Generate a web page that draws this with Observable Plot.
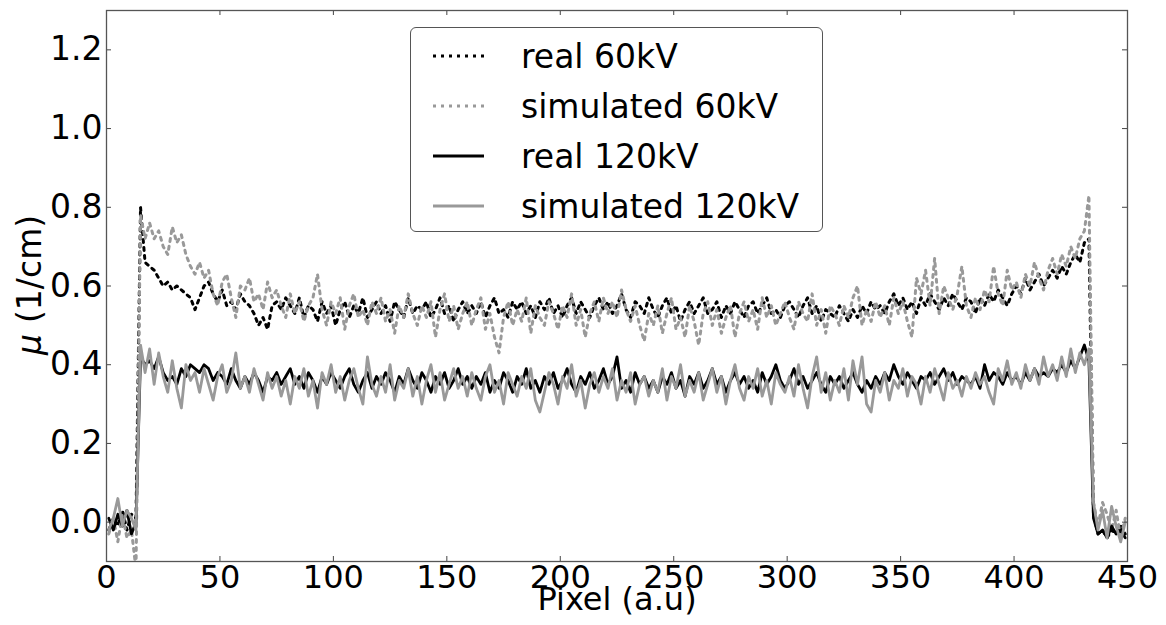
<!DOCTYPE html>
<html>
<head>
<meta charset="utf-8">
<script src="https://cdn.jsdelivr.net/npm/d3@7"></script>
<script src="https://cdn.jsdelivr.net/npm/@observablehq/plot@0.6"></script>
<style>
  html, body { margin: 0; padding: 0; background: #fff; }
  #wrap { position: relative; width: 1166px; height: 625px; font-family: "DejaVu Sans", sans-serif; }
  #legend { position: absolute; left: 410px; top: 27px; width: 411px; height: 203px; border: 1.3px solid #555; border-radius: 6px; background: #fff; }
</style>
</head>
<body>
<div id="wrap"><div id="chart"></div><div id="legend"></div></div>
<script>
// x positions (pixel index, every second pixel)
const pixel = d3.range(1, 450, 2);

const seriesNames = ["real 60kV", "simulated 60kV", "real 120kV", "simulated 120kV"];

const real60 = [
 -0.02, 0.01, -0.01, 0.03, -0.02, 0.02, 0.01, 0.80, 0.66, 0.65,
 0.64, 0.62, 0.60, 0.61, 0.59, 0.60, 0.59, 0.58, 0.57, 0.54,
 0.57, 0.60, 0.61, 0.58, 0.56, 0.59, 0.55, 0.56, 0.54, 0.58,
 0.56, 0.55, 0.53, 0.50, 0.52, 0.49, 0.55, 0.56, 0.54, 0.57,
 0.55, 0.53, 0.57, 0.52, 0.55, 0.54, 0.51, 0.56, 0.53, 0.55,
 0.50, 0.54, 0.56, 0.52, 0.55, 0.53, 0.57, 0.52, 0.54, 0.56,
 0.53, 0.55, 0.51, 0.56, 0.54, 0.52, 0.57, 0.53, 0.55, 0.54,
 0.56, 0.52, 0.54, 0.57, 0.53, 0.55, 0.51, 0.54, 0.56, 0.53,
 0.55, 0.53, 0.56, 0.52, 0.55, 0.57, 0.53, 0.54, 0.52, 0.56,
 0.54, 0.56, 0.53, 0.55, 0.52, 0.56, 0.54, 0.57, 0.53, 0.55,
 0.52, 0.55, 0.57, 0.53, 0.56, 0.54, 0.52, 0.55, 0.57, 0.54,
 0.56, 0.53, 0.55, 0.58, 0.54, 0.52, 0.56, 0.55, 0.53, 0.57,
 0.54, 0.52, 0.55, 0.57, 0.53, 0.55, 0.51, 0.54, 0.56, 0.53,
 0.55, 0.57, 0.53, 0.54, 0.56, 0.52, 0.55, 0.53, 0.56, 0.54,
 0.52, 0.55, 0.56, 0.53, 0.55, 0.57, 0.53, 0.54, 0.52, 0.55,
 0.56, 0.54, 0.52, 0.55, 0.57, 0.53, 0.55, 0.51, 0.54, 0.53,
 0.52, 0.55, 0.53, 0.51, 0.54, 0.52, 0.55, 0.53, 0.56, 0.54,
 0.55, 0.53, 0.56, 0.58, 0.55, 0.57, 0.54, 0.56, 0.53, 0.57,
 0.55, 0.58, 0.56, 0.54, 0.57, 0.55, 0.58, 0.56, 0.54, 0.57,
 0.56, 0.53, 0.57, 0.55, 0.58, 0.56, 0.59, 0.57, 0.55, 0.58,
 0.60, 0.58, 0.62, 0.59, 0.61, 0.63, 0.60, 0.62, 0.64, 0.62,
 0.65, 0.63, 0.66, 0.68, 0.66, 0.71, 0.72, 0.02, -0.03, -0.02,
 -0.04, -0.02, -0.03, -0.01, -0.03
];

const sim60 = [
 -0.03, 0.01, -0.05, 0.02, -0.04, -0.02, -0.12, 0.78, 0.72, 0.76,
 0.72, 0.74, 0.70, 0.68, 0.75, 0.71, 0.73, 0.68, 0.65, 0.63,
 0.66, 0.62, 0.64, 0.58, 0.55, 0.61, 0.63, 0.57, 0.52, 0.60,
 0.59, 0.62, 0.56, 0.58, 0.54, 0.61, 0.57, 0.59, 0.55, 0.52,
 0.58, 0.53, 0.56, 0.51, 0.55, 0.57, 0.63, 0.54, 0.50, 0.56,
 0.53, 0.57, 0.49, 0.55, 0.58, 0.52, 0.54, 0.50, 0.56, 0.53,
 0.57, 0.51, 0.54, 0.48, 0.55, 0.52, 0.58, 0.53, 0.50, 0.55,
 0.52, 0.56, 0.47, 0.54, 0.58, 0.51, 0.55, 0.49, 0.53, 0.56,
 0.50, 0.54, 0.57, 0.49, 0.53, 0.47, 0.43, 0.52, 0.56, 0.50,
 0.54, 0.51, 0.57, 0.48, 0.55, 0.52, 0.50, 0.56, 0.53, 0.49,
 0.55, 0.52, 0.58, 0.50, 0.54, 0.47, 0.53, 0.56, 0.51, 0.57,
 0.53, 0.56, 0.52, 0.59, 0.54, 0.51, 0.55, 0.50, 0.46, 0.53,
 0.50, 0.55, 0.48, 0.53, 0.57, 0.49, 0.52, 0.47, 0.55, 0.51,
 0.45, 0.53, 0.56, 0.50, 0.54, 0.48, 0.52, 0.55, 0.47, 0.53,
 0.56, 0.51, 0.54, 0.49, 0.57, 0.52, 0.55, 0.50, 0.53, 0.56,
 0.52, 0.49, 0.56, 0.53, 0.51, 0.58, 0.50, 0.54, 0.48, 0.55,
 0.53, 0.50, 0.55, 0.52, 0.57, 0.60, 0.50, 0.54, 0.51, 0.56,
 0.52, 0.55, 0.50, 0.57, 0.53, 0.56, 0.51, 0.47, 0.62, 0.58,
 0.64, 0.55, 0.67, 0.53, 0.60, 0.57, 0.54, 0.58, 0.65, 0.55,
 0.52, 0.57, 0.54, 0.59, 0.56, 0.65, 0.58, 0.55, 0.64, 0.59,
 0.61, 0.57, 0.63, 0.60, 0.66, 0.62, 0.59, 0.64, 0.67, 0.63,
 0.68, 0.65, 0.70, 0.67, 0.72, 0.74, 0.83, 0.05, -0.01, 0.05,
 0.02, -0.02, 0.03, -0.04, 0.01
];

const real120 = [
 0.01, -0.02, 0.02, -0.01, 0.03, -0.03, 0.00, 0.42, 0.40, 0.41,
 0.39, 0.42, 0.38, 0.36, 0.37, 0.35, 0.39, 0.37, 0.40, 0.39,
 0.38, 0.40, 0.39, 0.36, 0.38, 0.37, 0.35, 0.39, 0.36, 0.34,
 0.37, 0.35, 0.38, 0.36, 0.33, 0.37, 0.36, 0.38, 0.35, 0.37,
 0.39, 0.35, 0.37, 0.34, 0.38, 0.36, 0.33, 0.37, 0.35, 0.38,
 0.36, 0.34, 0.37, 0.39, 0.35, 0.33, 0.36, 0.38, 0.34, 0.37,
 0.35, 0.38, 0.36, 0.33, 0.37, 0.35, 0.39, 0.36, 0.34, 0.38,
 0.36, 0.33, 0.37, 0.35, 0.38, 0.34, 0.36, 0.39, 0.35, 0.37,
 0.34, 0.37, 0.35, 0.38, 0.33, 0.36, 0.34, 0.38, 0.36, 0.33,
 0.37, 0.35, 0.39, 0.34, 0.36, 0.33, 0.37, 0.35, 0.38, 0.34,
 0.36, 0.39, 0.35, 0.33, 0.37, 0.35, 0.38, 0.34, 0.36, 0.39,
 0.35, 0.37, 0.42, 0.34, 0.36, 0.33, 0.38, 0.35, 0.37, 0.34,
 0.36, 0.33, 0.37, 0.35, 0.38, 0.34, 0.36, 0.32, 0.37, 0.35,
 0.38, 0.34, 0.36, 0.39, 0.35, 0.37, 0.33, 0.36, 0.38, 0.35,
 0.37, 0.34, 0.36, 0.33, 0.38, 0.35, 0.37, 0.40, 0.36, 0.34,
 0.36, 0.39, 0.35, 0.37, 0.34, 0.36, 0.38, 0.35, 0.33, 0.37,
 0.35, 0.37, 0.34, 0.36, 0.38, 0.35, 0.33, 0.36, 0.34, 0.37,
 0.35, 0.38, 0.36, 0.40, 0.37, 0.35, 0.38, 0.36, 0.34, 0.37,
 0.36, 0.38, 0.35, 0.37, 0.39, 0.36, 0.38, 0.35, 0.37, 0.36,
 0.35, 0.37, 0.34, 0.40, 0.36, 0.38, 0.37, 0.35, 0.38, 0.36,
 0.37, 0.35, 0.38, 0.36, 0.39, 0.37, 0.38, 0.37, 0.39, 0.38,
 0.40, 0.38, 0.41, 0.39, 0.42, 0.45, 0.41, 0.01, -0.03, -0.02,
 -0.04, -0.01, -0.03, -0.02, -0.04
];

const sim120 = [
 -0.02, 0.01, 0.06, -0.01, 0.03, 0.01, -0.02, 0.45, 0.38, 0.44,
 0.35, 0.43, 0.37, 0.33, 0.41, 0.34, 0.29, 0.40, 0.36, 0.38,
 0.33, 0.39, 0.35, 0.31, 0.37, 0.40, 0.33, 0.36, 0.43, 0.34,
 0.37, 0.33, 0.39, 0.35, 0.31, 0.38, 0.34, 0.37, 0.32, 0.36,
 0.30, 0.37, 0.34, 0.39, 0.32, 0.36, 0.29, 0.38, 0.35, 0.40,
 0.33, 0.37, 0.31, 0.36, 0.39, 0.34, 0.30, 0.42, 0.35, 0.32,
 0.37, 0.33, 0.40, 0.31, 0.36, 0.34, 0.39, 0.32, 0.37, 0.30,
 0.36, 0.40, 0.33, 0.38, 0.31, 0.35, 0.39, 0.34, 0.37, 0.32,
 0.38, 0.34, 0.31, 0.37, 0.40, 0.33, 0.36, 0.30, 0.38, 0.35,
 0.32, 0.37, 0.34, 0.39, 0.31, 0.28, 0.33, 0.38, 0.35, 0.30,
 0.37, 0.34, 0.40, 0.32, 0.36, 0.29, 0.35, 0.38, 0.33, 0.37,
 0.34, 0.39, 0.31, 0.36, 0.33, 0.38, 0.30, 0.35, 0.37, 0.32,
 0.36, 0.33, 0.39, 0.31, 0.37, 0.34, 0.40, 0.32, 0.36, 0.33,
 0.38, 0.31, 0.35, 0.39, 0.33, 0.37, 0.30, 0.36, 0.40, 0.34,
 0.31, 0.37, 0.34, 0.39, 0.32, 0.36, 0.30, 0.38, 0.35, 0.33,
 0.37, 0.32, 0.40, 0.34, 0.29, 0.37, 0.42, 0.33, 0.38, 0.31,
 0.36, 0.33, 0.39, 0.31, 0.41, 0.35, 0.42, 0.30, 0.28, 0.36,
 0.33, 0.38, 0.31, 0.36, 0.34, 0.39, 0.32, 0.37, 0.35, 0.30,
 0.37, 0.33, 0.39, 0.35, 0.31, 0.38, 0.34, 0.36, 0.32, 0.37,
 0.34, 0.38, 0.35, 0.37, 0.33, 0.30, 0.39, 0.36, 0.41, 0.35,
 0.38, 0.34, 0.40, 0.36, 0.39, 0.35, 0.42, 0.37, 0.40, 0.36,
 0.42, 0.37, 0.44, 0.38, 0.43, 0.40, 0.44, 0.05, -0.02, 0.03,
 -0.04, 0.04, -0.01, -0.05, 0.00
];

const xTicks = [0, 50, 100, 150, 200, 250, 300, 350, 400, 450];
const yTicks = [0.0, 0.2, 0.4, 0.6, 0.8, 1.0, 1.2];
const xLabel = "Pixel (a.u)";
const yLabelSymbol = "μ";
const yLabelUnit = "(1/cm)";

const seriesStyles = [
  {name: seriesNames[0], values: real60, stroke: "#000", dash: "3,5"},
  {name: seriesNames[1], values: sim60, stroke: "#999", dash: "3,5"},
  {name: seriesNames[2], values: real120, stroke: "#000", dash: null},
  {name: seriesNames[3], values: sim120, stroke: "#999", dash: null}
];

const W = 1166, H = 625;
const mL = 106, mR = 39, mT = 10, mB = 64;
const frameW = W - mL - mR, frameH = H - mT - mB;

const marks = [];
for (const s of seriesStyles) {
  const rows = pixel.map((x, i) => ({x, y: s.values[i]}));
  marks.push(Plot.line(rows, {x: "x", y: "y", stroke: s.stroke, strokeWidth: s.dash ? 3 : 2.8,
    strokeDasharray: s.dash || undefined, clip: true, strokeLinejoin: "round"}));
}

const font = "DejaVu Sans";
const chart = Plot.plot({
  width: W, height: H,
  marginLeft: mL, marginRight: mR, marginTop: mT, marginBottom: mB,
  style: {fontFamily: font, fontSize: "33px", color: "#000", background: "#fff"},
  x: {domain: [0, 450], label: null},
  y: {domain: [-0.1, 1.3], label: null},
  marks: [
    Plot.axisX(xTicks, {tickSize: 0, tickPadding: 4, fontSize: 32, label: null}),
    Plot.axisY(yTicks, {tickSize: 0, tickPadding: 4, fontSize: 33, tickFormat: d3.format(".1f"), label: null}),
    ...marks,
    Plot.tickX(xTicks, {x: d => d, insetTop: frameH - 5, stroke: "#444", strokeWidth: 1}),
    Plot.tickX(xTicks, {x: d => d, insetBottom: frameH - 5, stroke: "#444", strokeWidth: 1}),
    Plot.tickY(yTicks, {y: d => d, insetRight: frameW - 5, stroke: "#444", strokeWidth: 1}),
    Plot.tickY(yTicks, {y: d => d, insetLeft: frameW - 5, stroke: "#444", strokeWidth: 1}),
    Plot.frame({stroke: "#555", strokeWidth: 1.3}),
    Plot.text([xLabel], {text: d => d, frameAnchor: "bottom", dy: 48, fontSize: 32, fill: "#000"}),
    Plot.text([yLabelSymbol], {text: d => d, frameAnchor: "left", dx: -76, dy: 69, rotate: -90,
      textAnchor: "start", fontSize: 33, fontStyle: "italic", fill: "#000"}),
    Plot.text([yLabelUnit], {text: d => d, frameAnchor: "left", dx: -76, dy: 37, rotate: -90,
      textAnchor: "start", fontSize: 33, fill: "#000"})
  ]
});
document.getElementById("chart").appendChild(chart);

// legend (inside the plot area, top centre)
const lg = d3.select("#legend").append("svg").attr("width", 411).attr("height", 203)
  .style("font-family", font);
seriesStyles.forEach((s, i) => {
  const cy = 28 + i * 50;
  lg.append("line").attr("x1", 22).attr("x2", 73).attr("y1", cy).attr("y2", cy)
    .attr("stroke", s.stroke).attr("stroke-width", 3)
    .attr("stroke-dasharray", s.dash ? "3,5" : null);
  lg.append("text").attr("x", 110).attr("y", cy).attr("dy", "0.35em")
    .attr("font-size", 33).attr("fill", "#000").text(s.name);
});
</script>
</body>
</html>
